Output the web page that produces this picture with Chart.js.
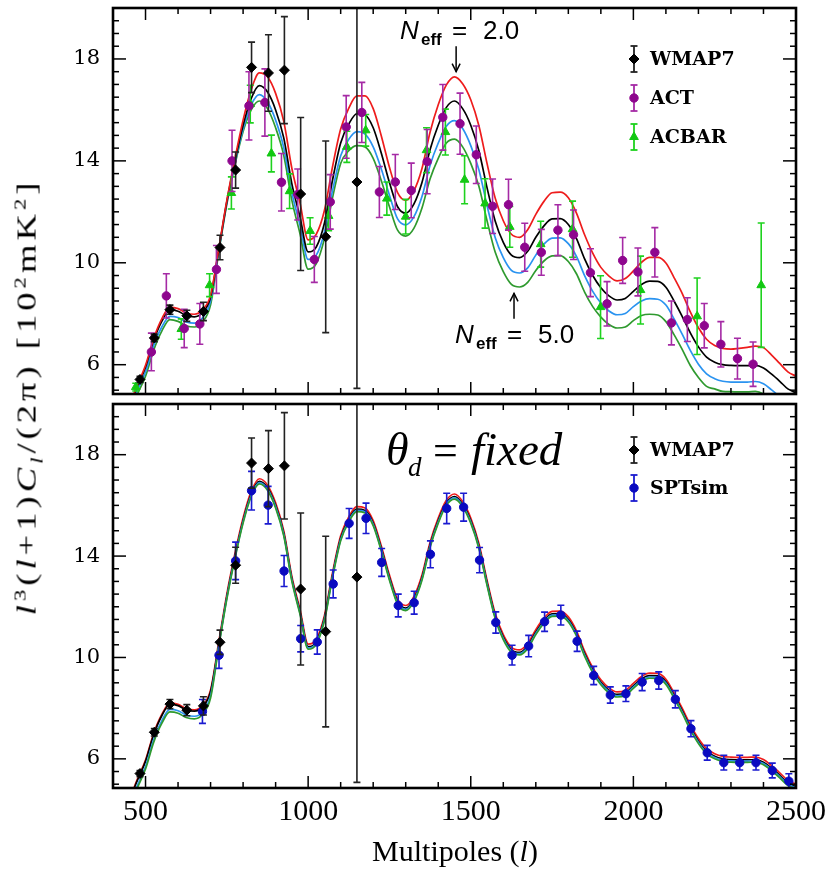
<!DOCTYPE html>
<html><head><meta charset="utf-8">
<script src="https://cdn.jsdelivr.net/npm/chart.js@4.4.1/dist/chart.umd.min.js"></script>
<style>
html,body{margin:0;padding:0;background:#fff;}
#wrap{position:relative;width:840px;height:871px;overflow:hidden;background:#fff;}
canvas{position:absolute;left:0;}
#c1{top:0;}
#c2{top:398px;}
.t{position:absolute;white-space:nowrap;color:#000;font-family:"Liberation Serif";}
#ytitle{left:29px;top:397px;font-size:28px;letter-spacing:3px;transform-origin:50% 50%;}
#xtitle{left:455px;top:851px;font-size:30px;transform:translate(-50%,-50%);}
sup,sub{font-size:62%;}
</style></head><body>
<div id="wrap">
<canvas id="c1" width="840" height="400"></canvas>
<canvas id="c2" width="840" height="473"></canvas>
<div class="t" id="ytitle"><i>l</i><sup>3</sup>(<i>l</i>+1)<i>C</i><sub><i>l</i></sub>/(2π) [10<sup>2</sup>mK<sup>2</sup>]</div>
<div class="t" id="xtitle">Multipoles (<i>l</i>)</div>
</div>
<script>
// ---------------- data ----------------
const multipoles = [440,470,500,525,550,575,600,625,650,675,700,725,750,775,800,825,850,875,900,925,950,975,1000,1025,1050,1075,1100,1125,1150,1175,1200,1225,1250,1275,1300,1325,1350,1375,1400,1425,1450,1475,1500,1525,1550,1575,1600,1625,1650,1675,1700,1725,1750,1775,1800,1825,1850,1875,1900,1925,1950,1975,2000,2025,2050,2075,2100,2125,2150,2175,2200,2225,2250,2275,2300,2325,2350,2375,2400,2425,2450,2475,2500];
const blackModel = [3.9,5.0,5.9,6.95,7.7,8.15,8.1,7.93,7.88,8.05,8.65,10.5,12.4,14.0,15.4,16.45,16.95,16.7,16.0,14.9,13.1,11.8,10.43,10.62,11.55,13.25,14.7,15.45,15.85,15.8,15.3,14.3,13.15,12.2,11.95,12.3,13.15,14.45,15.4,16.1,16.35,16.05,15.4,14.4,12.95,11.64,10.8,10.3,10.2,10.45,11.0,11.45,11.72,11.73,11.5,10.95,10.15,9.5,9.02,8.7,8.54,8.6,8.88,9.15,9.28,9.27,9.04,8.5,7.9,7.25,6.7,6.3,6.1,6.0,5.97,5.96,5.96,5.97,5.87,5.63,5.35,5.05,4.9];
const redNeff2 = [3.95,5.05,5.98,7.03,7.8,8.25,8.2,8.03,7.98,8.15,8.73,10.55,12.45,14.1,15.6,16.8,17.45,17.3,16.65,15.55,13.7,12.35,10.9,11.12,12.05,13.77,15.25,16.07,16.55,16.55,16.05,14.98,13.75,12.75,12.45,12.82,13.7,15.13,16.2,16.98,17.3,17.03,16.4,15.38,13.9,12.54,11.65,11.12,11.0,11.3,11.9,12.41,12.75,12.77,12.55,11.95,11.1,10.38,9.82,9.48,9.29,9.38,9.68,10.02,10.21,10.21,9.99,9.42,8.8,8.07,7.45,7.0,6.75,6.64,6.61,6.64,6.68,6.73,6.67,6.38,6.05,5.72,5.55];
const blueNeff4 = [3.75,4.85,5.72,6.75,7.48,7.9,7.85,7.68,7.63,7.83,8.5,10.45,12.35,13.92,15.25,16.2,16.6,16.32,15.6,14.52,12.75,11.48,10.13,10.3,11.2,12.83,14.2,14.85,15.15,15.05,14.55,13.68,12.65,11.72,11.49,11.8,12.6,13.83,14.7,15.36,15.58,15.27,14.6,13.65,12.25,10.99,10.2,9.7,9.6,9.8,10.3,10.73,10.97,10.98,10.75,10.25,9.5,8.88,8.42,8.11,7.96,8.01,8.28,8.5,8.59,8.57,8.34,7.8,7.2,6.56,6.02,5.64,5.45,5.35,5.32,5.32,5.32,5.34,5.25,5.01,4.74,4.45,4.3];
const greenNeff5 = [3.6,4.7,5.55,6.57,7.32,7.77,7.7,7.53,7.48,7.67,8.35,10.4,12.3,13.85,15.15,16.0,16.35,16.05,15.3,14.22,12.45,11.14,9.75,9.97,10.95,12.55,13.9,14.4,14.6,14.55,14.1,13.22,12.2,11.28,11.05,11.35,12.15,13.3,14.1,14.7,14.85,14.55,13.9,13.0,11.65,10.42,9.65,9.15,9.05,9.23,9.7,10.07,10.27,10.28,10.05,9.57,8.85,8.28,7.87,7.58,7.44,7.48,7.73,7.93,7.98,7.95,7.69,7.18,6.6,5.97,5.5,5.15,5.05,4.95,4.94,4.93,4.93,4.95,4.85,4.6,4.3,4.0,3.85];
const redFixed = [3.95,5.05,5.95,7.0,7.75,8.2,8.15,7.98,7.93,8.1,8.72,10.6,12.5,14.1,15.5,16.55,17.05,16.8,16.1,15.0,13.2,11.9,10.53,10.72,11.65,13.35,14.8,15.55,15.95,15.9,15.4,14.4,13.25,12.3,12.05,12.4,13.25,14.55,15.5,16.2,16.45,16.15,15.5,14.5,13.05,11.74,10.9,10.4,10.3,10.55,11.1,11.55,11.82,11.83,11.6,11.05,10.25,9.6,9.12,8.8,8.64,8.7,8.98,9.25,9.38,9.37,9.14,8.6,8.0,7.35,6.8,6.4,6.2,6.1,6.07,6.06,6.06,6.07,5.97,5.73,5.45,5.15,5.0];
const blueFixed = [3.7,4.8,5.7,6.75,7.5,7.95,7.9,7.73,7.68,7.85,8.5,10.45,12.35,13.95,15.35,16.4,16.9,16.65,15.95,14.85,13.05,11.75,10.38,10.57,11.5,13.2,14.65,15.4,15.8,15.75,15.25,14.25,13.1,12.15,11.9,12.25,13.1,14.4,15.35,16.05,16.3,16.0,15.35,14.35,12.9,11.59,10.75,10.25,10.15,10.4,10.95,11.4,11.67,11.68,11.45,10.9,10.1,9.45,8.97,8.65,8.49,8.55,8.83,9.1,9.23,9.22,8.99,8.45,7.85,7.2,6.65,6.25,6.05,5.95,5.92,5.91,5.91,5.92,5.82,5.58,5.3,5.0,4.85];
const greenFixed = [3.6,4.7,5.6,6.65,7.4,7.85,7.8,7.63,7.58,7.75,8.4,10.4,12.3,13.9,15.3,16.35,16.85,16.6,15.9,14.8,13.0,11.7,10.33,10.52,11.45,13.15,14.6,15.35,15.75,15.7,15.2,14.2,13.05,12.1,11.85,12.2,13.05,14.35,15.3,16.0,16.25,15.95,15.3,14.3,12.85,11.54,10.7,10.2,10.1,10.35,10.9,11.35,11.62,11.63,11.4,10.85,10.05,9.4,8.92,8.6,8.44,8.5,8.78,9.05,9.18,9.17,8.94,8.4,7.8,7.15,6.6,6.2,6.0,5.9,5.87,5.86,5.86,5.87,5.77,5.53,5.25,4.95,4.8];

const wmapL = [483,527,575,627,678,729,777,826,878,927,977,1054,1150];
const wmapV = [5.42,7.05,8.16,7.92,8.09,10.6,13.64,17.67,17.45,17.56,12.7,11.02,13.17];
const wmapE = [0.12,0.15,0.18,0.22,0.36,0.48,0.71,0.99,1.5,2.1,3.0,3.76,8.1];

const actL = [518,564,619,667,718,766,818,867,918,968,1019,1068,1117,1165,1219,1268,1317,1366,1414,1467,1517,1567,1616,1666,1717,1768,1816,1868,1919,1967,2014,2066,2117,2166,2218,2269,2320,2368];
const actV = [6.5,8.7,7.42,7.6,9.74,14.0,16.16,16.29,13.16,12.68,10.13,12.39,15.33,15.9,12.78,13.17,12.84,13.97,15.71,15.46,14.24,12.22,12.28,10.61,10.41,11.28,11.1,9.61,8.39,10.09,9.64,10.41,7.64,7.77,7.53,6.8,6.24,6.02];
const actE = [0.74,0.87,0.75,0.8,0.94,1.2,1.34,1.32,1.13,1.0,0.9,1.07,1.23,1.18,1.0,1.08,1.07,1.26,1.29,1.2,1.13,1.07,1.0,0.94,0.9,1.0,0.97,0.94,0.87,0.9,0.94,0.97,0.86,0.86,0.87,0.89,0.8,0.87];

const acbarL = [470,610,697,764,822,887,943,1006,1063,1119,1177,1242,1300,1364,1422,1481,1544,1620,1715,1813,1899,2022,2196,2393];
const acbarV = [5.12,7.4,9.12,12.74,16.23,14.29,12.81,11.25,11.84,14.55,15.2,12.52,11.81,14.42,15.13,13.26,12.33,11.41,10.73,11.32,8.26,8.93,7.9,9.12];
const acbarE = [0.15,0.4,0.45,0.63,0.74,0.72,0.68,0.52,0.58,0.61,0.62,0.65,0.68,0.88,0.9,0.94,0.97,0.8,0.9,1.1,1.23,1.33,1.5,2.44];

const sptL = [675,726,777,826,877,926,977,1028,1077,1126,1178,1226,1277,1326,1376,1426,1478,1527,1577,1627,1678,1727,1777,1827,1878,1929,1977,2027,2078,2129,2177,2227,2278,2327,2377,2427,2478];
const sptV = [7.87,10.09,13.81,16.58,16.01,13.41,10.74,10.61,12.9,15.29,15.49,13.75,12.05,12.16,14.07,15.88,15.93,13.84,11.38,10.09,10.45,11.41,11.67,10.64,9.29,8.52,8.57,9.03,9.09,8.35,7.19,6.24,5.85,5.85,5.85,5.54,5.12];
const sptE = [0.47,0.52,0.74,0.76,0.74,0.61,0.52,0.48,0.55,0.59,0.6,0.55,0.45,0.45,0.53,0.6,0.55,0.5,0.42,0.39,0.42,0.38,0.39,0.4,0.36,0.32,0.31,0.34,0.34,0.34,0.32,0.29,0.29,0.29,0.29,0.29,0.29];

const xTickValues = [500,1000,1500,2000,2500];
const yTickValues = [6,10,14,18];
const topLegendLabels = ['WMAP7','ACT','ACBAR'];
const bottomLegendLabels = ['WMAP7','SPTsim'];

// ---------------- styling ----------------
const X_MIN = 400, X_MAX = 2500, Y_MIN = 4.85, Y_MAX = 20;
const COL = {
  red:'#ee1c1c', black:'#000000', blue:'#2a93f0', green:'#2f9a2f',
  wmap:'#000000', wmapBar:'#222222',
  act:'#8e068e', actBar:'#a52aa5',
  acbar:'#12c812', acbarBar:'#1ed21e',
  spt:'#0a0ac0', sptBar:'#1a1ad0'
};
Chart.defaults.font.family = 'DejaVu Serif';
Chart.defaults.color = '#000';

function xy(ls, vs){ return ls.map((l,i)=>({x:l, y:vs[i]})); }
function curve(vals, color){
  return {type:'line', data: xy(multipoles, vals), borderColor: color, borderWidth: 1.7,
    pointRadius: 0, fill: false, cubicInterpolationMode: 'monotone', order: 10};
}
function pts(ls, vs, es, style, color, barColor, r, order){
  return {type:'line', showLine:false, data: xy(ls, vs), errors: es, errColor: barColor,
    pointStyle: style, pointRadius: r, pointBackgroundColor: color, pointBorderColor: color,
    pointBorderWidth: 1, order: order};
}

function line(ctx, x1, y1, x2, y2){ ctx.beginPath(); ctx.moveTo(x1,y1); ctx.lineTo(x2,y2); ctx.stroke(); }

function drawMarker(ctx, style, x, y, r, color){
  ctx.save(); ctx.fillStyle = color; ctx.strokeStyle = color; ctx.lineWidth = 1;
  ctx.beginPath();
  if (style === 'rectRot'){ ctx.moveTo(x, y-r); ctx.lineTo(x+r, y); ctx.lineTo(x, y+r); ctx.lineTo(x-r, y); ctx.closePath(); }
  else if (style === 'triangle'){ ctx.moveTo(x, y-r); ctx.lineTo(x+r*0.87, y+r*0.5); ctx.lineTo(x-r*0.87, y+r*0.5); ctx.closePath(); }
  else { ctx.arc(x, y, r, 0, Math.PI*2); }
  ctx.fill(); ctx.stroke(); ctx.restore();
}

const errorBarPlugin = {
  id: 'errorBars',
  beforeDatasetDraw(chart, args){
    const ds = chart.data.datasets[args.index];
    if (!ds.errors) return;
    const {ctx, chartArea: a, scales: {x, y}} = chart;
    ctx.save();
    ctx.beginPath(); ctx.rect(a.left, a.top, a.right - a.left, a.bottom - a.top); ctx.clip();
    ctx.strokeStyle = ds.errColor; ctx.lineWidth = 1.6;
    const cap = 3.5;
    ds.data.forEach((p, i) => {
      const e = ds.errors[i];
      const px = x.getPixelForValue(p.x);
      const y1 = y.getPixelForValue(p.y - e), y2 = y.getPixelForValue(p.y + e);
      ctx.beginPath();
      ctx.moveTo(px, y1); ctx.lineTo(px, y2);
      ctx.moveTo(px - cap, y1); ctx.lineTo(px + cap, y1);
      ctx.moveTo(px - cap, y2); ctx.lineTo(px + cap, y2);
      ctx.stroke();
    });
    ctx.restore();
  }
};

const framePlugin = {
  id: 'frame',
  afterDraw(chart){
    const {ctx, chartArea: a, scales: {x, y}} = chart;
    ctx.save();
    ctx.strokeStyle = '#000'; ctx.lineWidth = 1.5;
    for (let v = X_MIN; v <= X_MAX; v += 100){
      const px = x.getPixelForValue(v);
      const len = (v % 500 === 0) ? 12 : 6;
      line(ctx, px, a.bottom, px, a.bottom - len);
      line(ctx, px, a.top, px, a.top + len);
    }
    for (let v = 5; v <= Y_MAX; v += 0.5){
      const py = y.getPixelForValue(v);
      const len = ((v - 6) % 4 === 0) ? 13 : 6;
      line(ctx, a.left, py, a.left + len, py);
      line(ctx, a.right, py, a.right - len, py);
    }
    ctx.lineWidth = 2.6;
    ctx.strokeRect(a.left, a.top, a.right - a.left, a.bottom - a.top);
    ctx.restore();
  }
};

function drawLegend(ctx, items){
  items.forEach(it => {
    ctx.save();
    ctx.strokeStyle = it.bar; ctx.lineWidth = 1.8;
    line(ctx, it.x, it.y - 13, it.x, it.y + 13);
    line(ctx, it.x - 3.5, it.y - 13, it.x + 3.5, it.y - 13);
    line(ctx, it.x - 3.5, it.y + 13, it.x + 3.5, it.y + 13);
    drawMarker(ctx, it.style, it.x, it.y, it.r, it.color);
    ctx.fillStyle = '#000'; ctx.font = 'bold 19px "DejaVu Serif"';
    ctx.textBaseline = 'middle'; ctx.textAlign = 'left';
    ctx.fillText(it.label, it.x + 16, it.y + 1);
    ctx.restore();
  });
}

function arrow(ctx, x, y1, y2){
  ctx.save(); ctx.strokeStyle = '#000'; ctx.lineWidth = 1.5;
  line(ctx, x, y1, x, y2);
  const d = y2 > y1 ? -1 : 1;
  ctx.beginPath(); ctx.moveTo(x - 4, y2 + d*8); ctx.lineTo(x, y2); ctx.lineTo(x + 4, y2 + d*8); ctx.stroke();
  ctx.restore();
}

function neffLabel(ctx, x, y, value){
  ctx.save(); ctx.fillStyle = '#000'; ctx.textBaseline = 'alphabetic'; ctx.textAlign = 'left';
  ctx.font = 'italic 26px "Liberation Sans"'; ctx.fillText('N', x, y);
  ctx.font = 'bold 17px "Liberation Sans"'; ctx.fillText('eff', x + 21, y + 6);
  ctx.font = '26px "Liberation Sans"'; ctx.fillText('=', x + 52, y);
  ctx.fillText(value, x + 83, y);
  ctx.restore();
}

const topAnnot = {
  id: 'topAnnot',
  afterDraw(chart){
    const {ctx, scales: {x, y}} = chart;
    arrow(ctx, x.getPixelForValue(1455), y.getPixelForValue(18.5), y.getPixelForValue(17.5));
    neffLabel(ctx, 400, 39, '2.0');
    arrow(ctx, x.getPixelForValue(1633), y.getPixelForValue(7.8), y.getPixelForValue(8.8));
    neffLabel(ctx, 455, 343, '5.0');
    drawLegend(ctx, [
      {label: topLegendLabels[0], style:'rectRot', r:5, color: COL.wmap, bar: COL.wmapBar, x:634, y:59},
      {label: topLegendLabels[1], style:'circle', r:4.2, color: COL.act, bar: COL.actBar, x:634, y:98},
      {label: topLegendLabels[2], style:'triangle', r:5, color: COL.acbar, bar: COL.acbarBar, x:634, y:137}
    ]);
  }
};

const bottomAnnot = {
  id: 'bottomAnnot',
  afterDraw(chart){
    const ctx = chart.ctx;
    ctx.save(); ctx.fillStyle = '#000'; ctx.textBaseline = 'alphabetic';
    ctx.font = 'italic 46px "Liberation Serif"'; ctx.fillText('θ', 386, 67);
    ctx.font = 'italic 27px "Liberation Serif"'; ctx.fillText('d', 408, 78);
    ctx.font = '44px "Liberation Serif"'; ctx.fillText('=', 433, 67);
    ctx.font = 'italic 47px "Liberation Serif"'; ctx.fillText('fixed', 471, 67);
    ctx.restore();
    drawLegend(ctx, [
      {label: bottomLegendLabels[0], style:'rectRot', r:5, color: COL.wmap, bar: COL.wmapBar, x:634, y:52},
      {label: bottomLegendLabels[1], style:'circle', r:4.2, color: COL.spt, bar: COL.sptBar, x:634, y:90}
    ]);
  }
};

function makeScales(showX){
  return {
    x: {type:'linear', min: X_MIN, max: X_MAX, display: showX,
      grid: {display:false, drawTicks:false}, border: {display:false},
      ticks: {font: {family:'Liberation Serif', size: 30}, padding: 6, maxRotation: 0, autoSkip: false,
        callback: v => String(v)},
      afterBuildTicks: s => { s.ticks = xTickValues.map(v => ({value: v})); },
      afterFit: s => { if (showX) s.height = 83; s.paddingLeft = 0; s.paddingRight = 0; }
    },
    y: {type:'linear', min: Y_MIN, max: Y_MAX,
      grid: {display:false, drawTicks:false}, border: {display:false},
      ticks: {font: {family:'DejaVu Serif', size: 21}, padding: 13, callback: v => String(v)},
      afterBuildTicks: s => { s.ticks = yTickValues.map(v => ({value: v})); },
      afterFit: s => { s.width = 113; s.paddingTop = 0; s.paddingBottom = 0; }
    }
  };
}

const common = {
  responsive: false, animation: false, events: [],
  plugins: {legend: {display:false}, tooltip: {enabled:false}, title: {display:false}}
};

new Chart(document.getElementById('c1'), {
  type: 'line',
  data: {datasets: [
    pts(wmapL, wmapV, wmapE, 'rectRot', COL.wmap, COL.wmapBar, 5, 0),
    pts(actL, actV, actE, 'circle', COL.act, COL.actBar, 4.2, 1),
    pts(acbarL, acbarV, acbarE, 'triangle', COL.acbar, COL.acbarBar, 5, 2),
    curve(redNeff2, COL.red),
    curve(blackModel, COL.black),
    curve(blueNeff4, COL.blue),
    curve(greenNeff5, COL.green)
  ]},
  options: Object.assign({}, common, {
    layout: {padding: {top: 8, right: 44, bottom: 2, left: 0}},
    scales: makeScales(false)
  }),
  plugins: [errorBarPlugin, framePlugin, topAnnot]
});

new Chart(document.getElementById('c2'), {
  type: 'line',
  data: {datasets: [
    pts(wmapL, wmapV, wmapE, 'rectRot', COL.wmap, COL.wmapBar, 5, 0),
    pts(sptL, sptV, sptE, 'circle', COL.spt, COL.sptBar, 4.2, 1),
    curve(greenFixed, COL.green),
    curve(blueFixed, COL.blue),
    curve(blackModel, COL.black),
    curve(redFixed, COL.red)
  ]},
  options: Object.assign({}, common, {
    layout: {padding: {top: 0, right: 44, bottom: 0, left: 0}},
    scales: makeScales(true)
  }),
  plugins: [errorBarPlugin, framePlugin, bottomAnnot]
});

// stretch rotated y title to the reference length
const yt = document.getElementById('ytitle');
const w = yt.offsetWidth;
yt.style.transform = 'translate(-50%,-50%) rotate(-90deg) scaleX(' + (437 / w).toFixed(3) + ')';
</script>
</body></html>
